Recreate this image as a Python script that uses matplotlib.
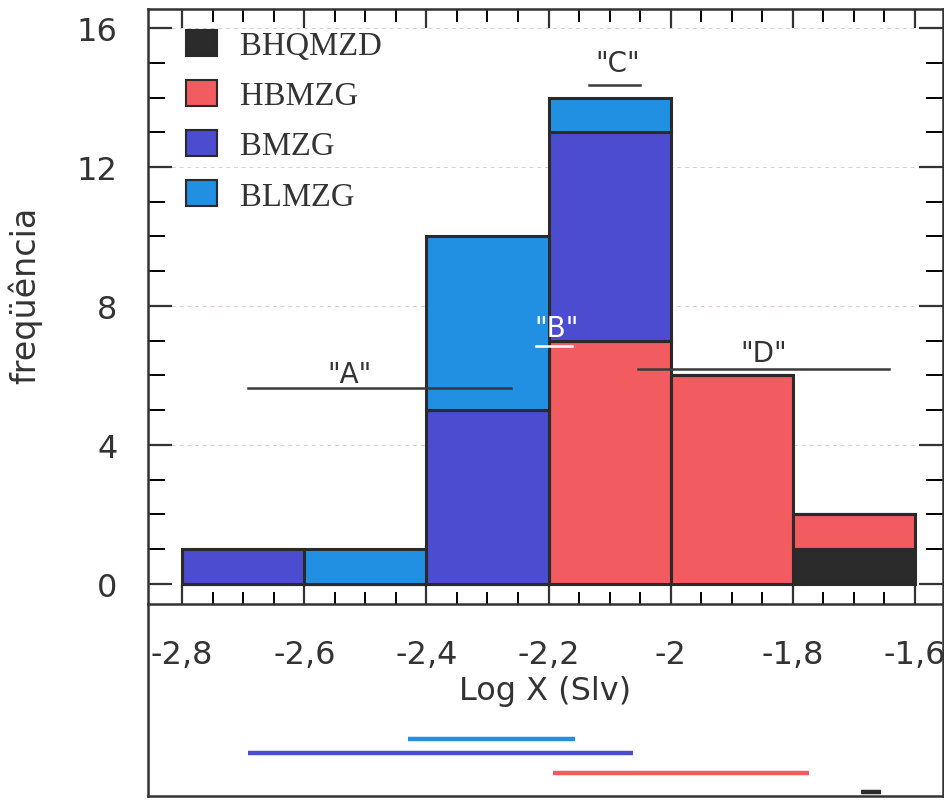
# stacked histogram of Log X (Slv) with range bars underneath

import numpy as np
from matplotlib import pyplot as plt
from matplotlib.patches import Patch

plt.rcParams['font.family'] = ['DejaVu Sans']

# bins and counts per group
bin_left = [-2.8, -2.6, -2.4, -2.2, -2.0, -1.8]
groups = ["BHQMZD", "HBMZG", "BMZG", "BLMZG"]
BHQMZD = [0, 0, 0, 0, 0, 1]
HBMZG = [0, 0, 0, 7, 6, 1]
BMZG = [1, 0, 5, 6, 0, 0]
BLMZG = [0, 1, 5, 1, 0, 0]
colors = ["#2b2b2b", "#f25b5f", "#4b4ccf", "#2190e2"]

tick_pos = [-2.8, -2.6, -2.4, -2.2, -2.0, -1.8, -1.6]
tick_lab = ["-2,8", "-2,6", "-2,4", "-2,2", "-2", "-1,8", "-1,6"]

# group ranges in the lower panel (light blue, blue, red, black)
range_lo = [-2.431, -2.693, -2.192, -1.689]
range_hi = [-2.156, -2.061, -1.774, -1.656]
range_row = [0.297, 0.224, 0.12, 0.021]
range_col = [colors[3], colors[2], colors[1], colors[0]]

# "A".."D" marks
mark_txt = ['"A"', '"B"', '"C"', '"D"']
mark_x = [-2.526, -2.187, -2.087, -1.848]
mark_y = [5.81, 7.14, 14.76, 6.42]
mark_col = ["#333333", "white", "#333333", "#333333"]
line_x0 = [-2.693, -2.221, -2.134, -2.054]
line_x1 = [-2.262, -2.161, -2.050, -1.643]
line_y = [5.64, 6.85, 14.36, 6.19]

W, H = 945, 804
fig = plt.figure(figsize=(W / 100, H / 100), dpi=100)
ax = fig.add_axes([148 / W, 1 - 605 / H, (943 - 148) / W, (605 - 10) / H])
ax2 = fig.add_axes([148 / W, 1 - 797 / H, (943 - 148) / W, (797 - 605) / H])

ec = "#2a2a2a"
bottom = np.zeros(len(bin_left))
for name, vals, c in zip(groups, [BHQMZD, HBMZG, BMZG, BLMZG], colors):
    vals = np.array(vals)
    ax.bar(bin_left, vals, width=0.2, align="edge", bottom=bottom,
           color=c, edgecolor=ec, linewidth=2.2, zorder=2)
    bottom += vals

# faint grid lines like the scan
for g in [4, 8, 12, 16]:
    ax.axhline(g, color="#d9c9e6", lw=0.7, ls=(0, (4, 4)), zorder=1)

for i in range(4):
    lc = "white" if mark_col[i] == "white" else "#3a3a3a"
    ax.plot([line_x0[i], line_x1[i]], [line_y[i], line_y[i]], color=lc, lw=1.8, zorder=3)
    ax.text(mark_x[i], mark_y[i], mark_txt[i], color=mark_col[i], fontsize=20,
            ha="center", va="baseline", zorder=4)

ax.set_xlim(-2.856, -1.554)
ax.set_ylim(-0.576, 16.547)
ax.set_xticks(tick_pos)
ax.set_xticklabels(tick_lab)
ax.set_xticks(np.arange(-2.8, -1.59, 0.05), minor=True)
ax.set_yticks([0, 4, 8, 12, 16])
ax.set_yticks(range(0, 17), minor=True)

ax.tick_params(axis="x", which="major", direction="in", length=14, width=1.6,
               top=True, bottom=True, pad=25, labelsize=23, colors="#333333")
ax.tick_params(axis="x", which="minor", direction="in", length=9, width=1.4,
               top=True, bottom=True)
ax.tick_params(axis="y", which="major", direction="in", length=17, width=1.6,
               left=True, right=True, pad=22, labelsize=23, colors="#333333")
ax.tick_params(axis="y", which="minor", direction="in", length=12, width=1.4,
               left=True, right=True)
for s in ax.spines.values():
    s.set_linewidth(1.8)
    s.set_color("#333333")

ax.set_xlabel("Log X (Slv)", fontsize=23, color="#333333", labelpad=4)
ax.set_ylabel("freqüência", fontsize=24, color="#333333")
ax.yaxis.set_label_coords(-0.133, 0.52)

handles = [Patch(facecolor=c, edgecolor=ec, linewidth=1.5) for c in colors]
ax.legend(handles, groups, loc="upper left", bbox_to_anchor=(0.0478, 0.9655),
          frameon=False, prop={"family": "Liberation Serif", "size": 23.5},
          handlelength=0.95, handleheight=0.85, handletextpad=0.7,
          labelspacing=0.58, borderpad=0, borderaxespad=0, labelcolor="#333333")

# lower panel: ranges of each group
for lo, hi, r, c in zip(range_lo, range_hi, range_row, range_col):
    ax2.plot([lo, hi], [r, r], color=c, lw=3.2, solid_capstyle="butt")
ax2.set_xlim(ax.get_xlim())
ax2.set_ylim(0, 1)
ax2.set_xticks([])
ax2.set_yticks([])
ax2.set_facecolor("none")
ax2.spines["top"].set_visible(False)
for s in ["left", "right", "bottom"]:
    ax2.spines[s].set_linewidth(1.8)
    ax2.spines[s].set_color("#333333")

fig.savefig("out.png", dpi=100)
